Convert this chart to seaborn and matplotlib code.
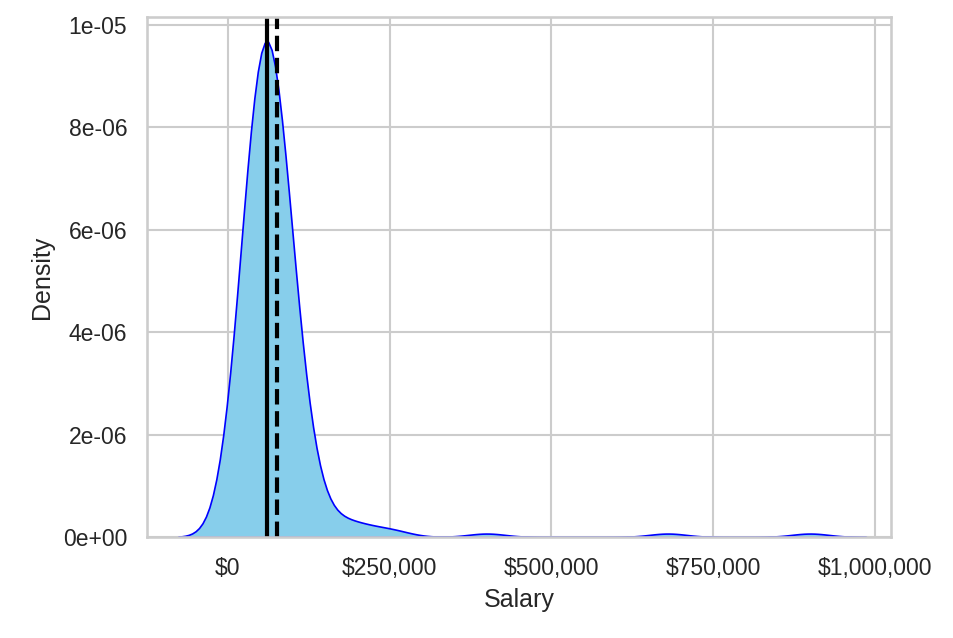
import numpy as np
import pandas as pd
import matplotlib
matplotlib.use("Agg")
import matplotlib.pyplot as plt
import matplotlib.ticker as mtick
import seaborn as sns


salary_levels = [10000, 20000, 30000, 40000, 50000, 60000, 70000, 80000, 90000,
                 100000, 110000, 120000, 130000,
                 150000, 170000, 190000, 210000, 240000, 260000,
                 400000, 680000, 900000]
salary_counts = [5, 9, 15, 23, 29, 30, 26, 21, 15,
                 10, 7, 4, 1,
                 2, 1, 2, 1, 1, 1,
                 1, 1, 1]

#Build the sample
df = pd.DataFrame({'Salary': np.repeat(salary_levels, salary_counts)})
median_sal = df['Salary'].median()
mean_sal = df['Salary'].mean()

#Style
sns.set_theme(style='whitegrid')
plt.rcParams['font.family'] = ['Liberation Sans', 'DejaVu Sans']

fig, ax = plt.subplots(figsize=(953/150, 638/150), dpi=150)
fig.subplots_adjust(left=147/953, right=891/953, top=1-17/638, bottom=1-537/638)

#Density plot
sns.kdeplot(data=df, x='Salary', fill=True, color='skyblue', alpha=1,
            edgecolor='blue', linewidth=0.8, ax=ax)

#Median and mean lines
ax.axvline(median_sal, color='black', linewidth=2)
ax.axvline(mean_sal, color='black', linewidth=2, linestyle='--')

#Tick formats
ax.xaxis.set_major_formatter(mtick.StrMethodFormatter('${x:,.0f}'))
ax.yaxis.set_major_formatter(mtick.FormatStrFormatter('%.0e'))
ax.set_xticks([0, 250000, 500000, 750000, 1000000])
ax.set_xlim(-125000, 1025000)

ax.set_xlabel('Salary')
ax.set_ylabel('Density')

fig.savefig('out.png', dpi=150)
